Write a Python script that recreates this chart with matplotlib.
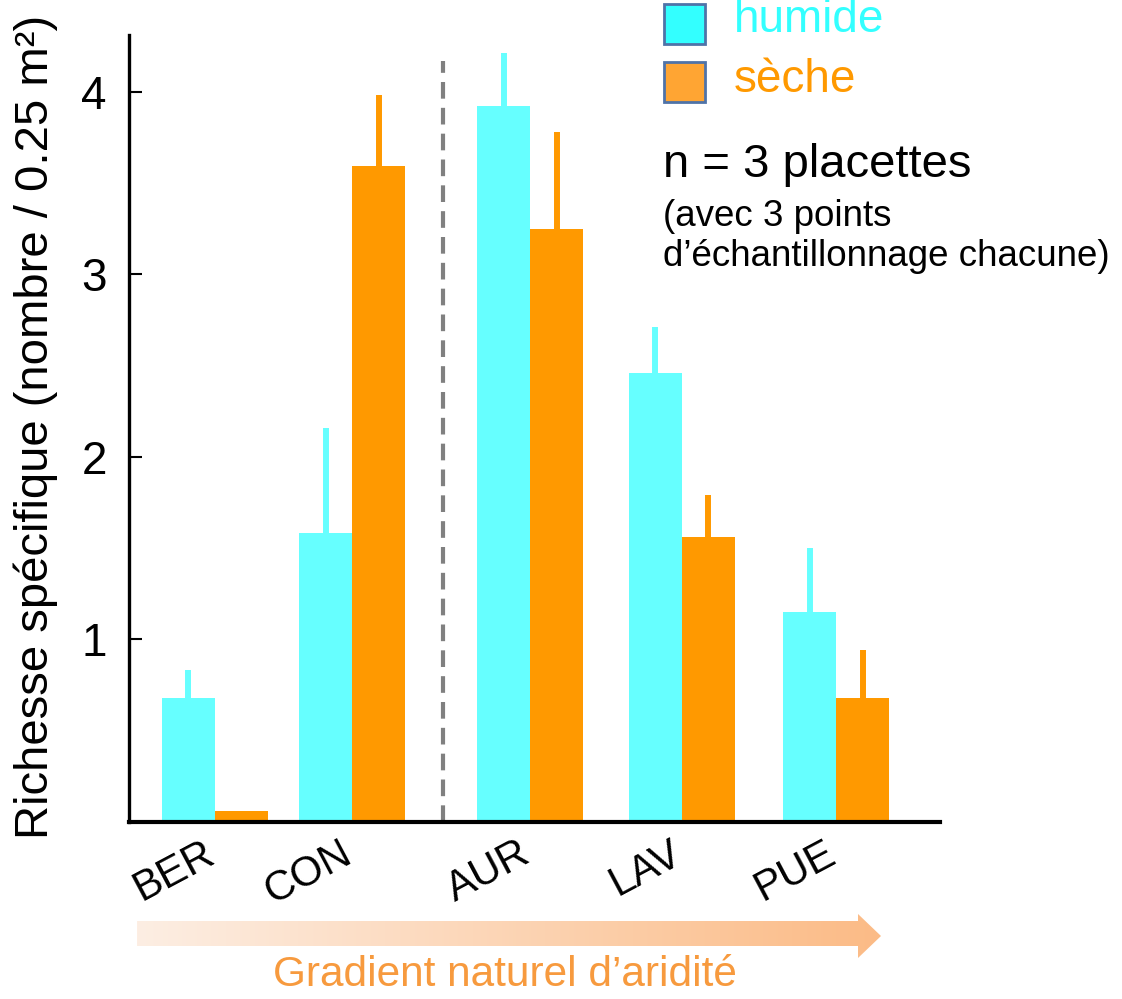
import numpy as np
import matplotlib
matplotlib.use("Agg")
import matplotlib.pyplot as plt
import matplotlib.transforms as mtransforms
from matplotlib.patches import Polygon, Rectangle
from matplotlib.colors import LinearSegmentedColormap

plt.rcParams["font.family"] = ["Liberation Sans", "DejaVu Sans"]

# ----------------------------
# Data
# ----------------------------
sites = ["BER", "CON", "AUR", "LAV", "PUE"]
humide = [0.68, 1.58, 3.92, 2.46, 1.15]
humide_err = [0.15, 0.58, 0.29, 0.25, 0.35]
seche = [0.06, 3.59, 3.25, 1.56, 0.68]
seche_err = [0.0, 0.39, 0.53, 0.23, 0.26]

# group centres (irregular spacing as in the original)
group_x = [1.62, 4.21, 7.57, 10.43, 13.34]
split_x = 5.92
bar_w = 1.0

c_hum = "#66FFFF"
c_sec = "#FF9900"

# ----------------------------
# Figure
# ----------------------------
fig = plt.figure(figsize=(11.22, 9.99), dpi=100)
fig.patch.set_facecolor("white")
ax = fig.add_axes([129 / 1122, 1 - 822 / 999, 811 / 1122, 787 / 999])

x = np.array(group_x)
err_kw = dict(elinewidth=4.3, capsize=0)
ax.bar(x - bar_w / 2, humide, bar_w, color=c_hum,
       yerr=[np.zeros(len(humide)), humide_err],
       error_kw=dict(ecolor=c_hum, **err_kw), zorder=2)
ax.bar(x + bar_w / 2, seche, bar_w, color=c_sec,
       yerr=[np.zeros(len(seche)), seche_err],
       error_kw=dict(ecolor=c_sec, **err_kw), zorder=2)

ax.axvline(split_x, ymin=0, ymax=4.17 / 4.31, color="#808080", lw=3,
           ls=(0, (4, 2.2)), zorder=1)

ax.set_xlim(0, 15.3)
ax.set_ylim(0, 4.31)
ax.set_yticks([1, 2, 3, 4])
ax.tick_params(axis="y", direction="in", length=9, width=1.5,
               labelsize=33, pad=16)
ax.set_xticks(x)
ax.set_xticklabels(sites, rotation=28, ha="right", va="top",
                   rotation_mode="anchor", fontsize=30)
ax.tick_params(axis="x", length=0, pad=8)
shift = mtransforms.ScaledTranslation(-12 / 100, 0, fig.dpi_scale_trans)
for lab in ax.get_xticklabels():
    lab.set_transform(lab.get_transform() + shift)
ax.spines["top"].set_visible(False)
ax.spines["right"].set_visible(False)
ax.spines["left"].set_linewidth(2.4)
ax.spines["bottom"].set_linewidth(3)
ax.set_ylabel("Richesse spécifique (nombre / 0.25 m²)", fontsize=34)
ax.yaxis.set_label_coords(-0.087, 0.502)

# ----------------------------
# Overlay: legend, notes, gradient arrow
# ----------------------------
ov = fig.add_axes([0, 0, 1, 1])
ov.set_xlim(0, 1122)
ov.set_ylim(999, 0)
ov.axis("off")
ov.patch.set_alpha(0)

ov.add_patch(Rectangle((664, 4), 41, 40, facecolor="#33FFFF",
                       edgecolor="#4F73A8", lw=2))
ov.add_patch(Rectangle((664, 62), 41, 40, facecolor="#FFA533",
                       edgecolor="#4F73A8", lw=2))
ov.text(734, 20, "humide", color="#33FFFF", fontsize=33, va="center")
ov.text(734, 80, "sèche", color="#FF9900", fontsize=33, va="center")

ov.text(663, 165, "n = 3 placettes", fontsize=34, va="center")
ov.text(663, 216, "(avec 3 points", fontsize=26.5, va="center")
ov.text(663, 256, "d\u2019échantillonnage chacune)", fontsize=26.5, va="center")

cmap = LinearSegmentedColormap.from_list("arr", ["#FDEEE3", "#FBBB86"])
img = ov.imshow(np.linspace(0, 1, 256).reshape(1, -1), cmap=cmap,
                extent=(137, 881, 958, 914), aspect="auto")
arrow = Polygon([(137, 921), (858, 921), (858, 914), (881, 936),
                 (858, 958), (858, 946), (137, 946)], closed=True,
                facecolor="none", edgecolor="none")
ov.add_patch(arrow)
img.set_clip_path(arrow)
ov.set_xlim(0, 1122)
ov.set_ylim(999, 0)

ov.text(505, 975, "Gradient naturel d\u2019aridité", color="#F79A3E",
        fontsize=30.5, ha="center", va="center")

fig.savefig("out.png", dpi=100)
